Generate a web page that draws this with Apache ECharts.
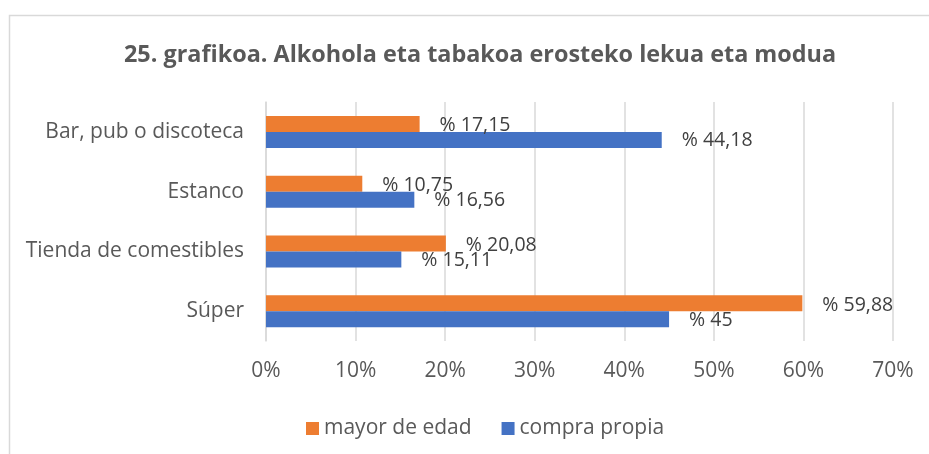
<!DOCTYPE html>
<html>
<head>
<meta charset="utf-8">
<script src="https://cdn.jsdelivr.net/npm/echarts@6/dist/echarts.min.js"></script>
<style>
  html, body { margin: 0; padding: 0; background: #fff; }
  #main { width: 929px; height: 454px; }
</style>
</head>
<body>
<div id="main"></div>
<script>
    // categorias de abajo hacia arriba (eje y de ECharts)
    var categories = ['Súper', 'Tienda de comestibles', 'Estanco', 'Bar, pub o discoteca'];
    var mayorDeEdad = [59.88, 20.08, 10.75, 17.15];
    var compraPropia = [45, 15.11, 16.56, 44.18];
    var xTicks = [0, 10, 20, 30, 40, 50, 60, 70];

    var fontFam = '"Open Sans", sans-serif';

    function pctLabel(p) {
        return '% ' + String(p.value).replace('.', ',');
    }

    var myChart = echarts.init(document.getElementById('main'));
    var option = {
        backgroundColor: '#fff',
        animation: false,
        title: {
            text: '25. grafikoa. Alkohola eta tabakoa erosteko lekua eta modua',
            left: 119,
            top: 39,
            textStyle: {
                color: '#595959',
                fontSize: 23.4,
                fontWeight: 'bold',
                fontFamily: fontFam
            }
        },
        graphic: [{
            /*borde del grafico*/
            type: 'rect',
            shape: { x: 9.5, y: 15.5, width: 940, height: 460 },
            style: { fill: 'none', stroke: '#d9d9d9', lineWidth: 1.5 },
            silent: true
        }],
        legend: {
            data: ['mayor de edad', 'compra propia'],
            bottom: 10,
            left: 301,
            itemWidth: 13,
            itemHeight: 13,
            itemGap: 30,
            icon: 'rect',
            textStyle: { color: '#595959', fontSize: 21, fontFamily: fontFam }
        },
        grid: {
            left: 266,
            right: 36,
            top: 102,
            bottom: 113,
            containLabel: false
        },
        xAxis: {
            type: 'value',
            min: xTicks[0],
            max: xTicks[xTicks.length - 1],
            interval: 10,
            axisLine: { show: false },
            axisTick: { show: false },
            axisLabel: {
                formatter: '{value}%',
                color: '#595959',
                fontSize: 21,
                margin: 20,
                fontFamily: fontFam
            },
            splitLine: { lineStyle: { color: '#d9d9d9', width: 1.5 } }
        },
        yAxis: {
            type: 'category',
            data: categories,
            axisLine: { show: true, lineStyle: { color: '#d9d9d9', width: 1.5 } },
            axisTick: { show: false },
            axisLabel: {
                color: '#595959',
                fontSize: 21,
                margin: 22,
                fontFamily: fontFam
            }
        },
        series: [
            {
                name: 'mayor de edad',
                type: 'bar',
                data: mayorDeEdad,
                barWidth: 16,
                barGap: '0%',
                itemStyle: { color: '#ED7D31' },
                label: {
                    show: true,
                    position: 'right',
                    distance: 20,
                    offset: [0, 2],
                    formatter: pctLabel,
                    color: '#404040',
                    fontSize: 19.5,
                    fontFamily: fontFam
                }
            },
            {
                name: 'compra propia',
                type: 'bar',
                data: compraPropia,
                barWidth: 16,
                barGap: '0%',
                itemStyle: { color: '#4472C4' },
                label: {
                    show: true,
                    position: 'right',
                    distance: 20,
                    offset: [0, 1],
                    formatter: pctLabel,
                    color: '#404040',
                    fontSize: 19.5,
                    fontFamily: fontFam
                }
            }
        ]
    };
    myChart.setOption(option);
</script>
</body>
</html>
